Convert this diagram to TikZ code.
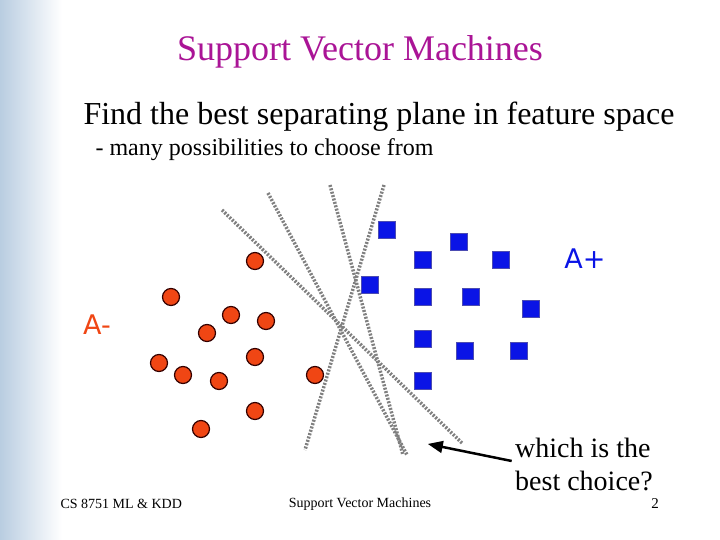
\documentclass[tikz,border=0pt]{standalone}
\usepackage{fontspec}
\setmainfont{Liberation Serif}
\setsansfont{DejaVu Sans}
\usetikzlibrary{arrows}
\definecolor{titlecol}{RGB}{170,20,150}
\definecolor{negcol}{RGB}{240,70,20}
\definecolor{poscol}{RGB}{10,20,230}
\definecolor{marble}{RGB}{185,205,225}
\begin{document}
\begin{tikzpicture}[x=1pt,y=-1pt]
		\tikzstyle{negpt}=[circle,draw=black!80!red,fill=negcol,line width=1.2pt,minimum size=17pt,inner sep=0pt]
		\tikzstyle{pospt}=[rectangle,draw=blue!40!gray,fill=poscol,line width=1.2pt,minimum size=17pt,inner sep=0pt]
		\tikzstyle{plane}=[gray,line width=3.5pt,dash pattern=on 2pt off 1.5pt]
		\useasboundingbox (0,0) rectangle (720,540);
		\fill[white] (0,0) rectangle (720,540);
		\shade[left color=marble,right color=white] (0,0) rectangle (62,540);
		% title and text
		\node[text=titlecol,font=\fontsize{36}{38}\selectfont] (title) at (360,52) {Support Vector Machines};
		\node[font=\fontsize{32}{34}\selectfont,anchor=west] (goal) at (80,117) {Find the best separating plane in feature space};
		\node[font=\fontsize{24}{26}\selectfont,anchor=west] (sub) at (92,150) {- many possibilities to choose from};
		\node[text=poscol,font=\sffamily\fontsize{27}{29}\selectfont] (Aplus) at (585,259) {A+};
		\node[text=negcol,font=\sffamily\fontsize{27}{29}\selectfont] (Aminus) at (97,325) {A-};
		% separating planes
		\coordinate (p1a) at (222,210); \coordinate (p1b) at (462,443);
		\coordinate (p2a) at (268,193); \coordinate (p2b) at (407,455);
		\coordinate (p3a) at (330,185); \coordinate (p3b) at (403,455);
		\coordinate (p4a) at (384,185); \coordinate (p4b) at (305,450);
		\draw[plane] (p1a) -- (p1b);
		\draw[plane] (p2a) -- (p2b);
		\draw[plane] (p3a) -- (p3b);
		\draw[plane] (p4a) -- (p4b);
		% points
		\foreach \x/\y [count=\i] in {255/261,171/297,231/315,266/321,207/333,159/363,183/375,219/381,255/357,315/375,255/411,201/429}
			\node[negpt] (n\i) at (\x,\y) {};
		\foreach \x/\y [count=\i] in {387/230,459/242,423/260,501/260,370/285,423/297,471/297,531/309,423/339,465/351,519/351,423/381}
			\node[pospt] (s\i) at (\x,\y) {};
		% question
		\node[font=\fontsize{28}{33}\selectfont,align=left] (ask) at (584,464) {which is the\\best choice?};
		\coordinate (tip) at (428,444);
		\draw[-triangle 45,line width=2.5pt] (ask.west) ++(0,-3) -- (tip);
		% footer
		\node[font=\fontsize{14}{16}\selectfont,anchor=west] (course) at (57,504) {CS 8751 ML \& KDD};
		\node[font=\fontsize{14}{16}\selectfont] (foot) at (360,504) {Support Vector Machines};
		\node[font=\fontsize{15}{17}\selectfont] (page) at (655,504) {2};
	\end{tikzpicture}
\end{document}
